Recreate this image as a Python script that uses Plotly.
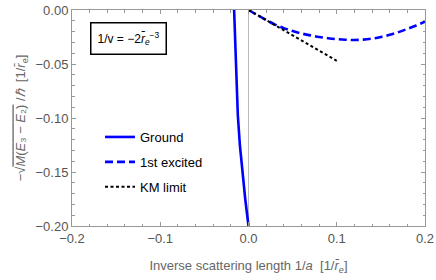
import plotly.graph_objects as go

# Ground state curve
ground_x = [-0.0163, -0.0152, -0.0142, -0.0131, -0.0121, -0.0098, -0.0070, -0.0037, 0.0]
ground_y = [0.0, -0.025, -0.05, -0.075, -0.0972, -0.125, -0.15, -0.175, -0.20]

# 1st excited state curve
excited_x = [0.0, 0.01, 0.02, 0.03, 0.04, 0.05, 0.06, 0.07, 0.08, 0.09, 0.10,
             0.11, 0.12, 0.13, 0.14, 0.15, 0.16, 0.17, 0.18, 0.19, 0.20]
excited_y = [0.0, -0.0047, -0.0092, -0.0135, -0.0168, -0.0195, -0.0217, -0.0235,
             -0.0250, -0.0261, -0.0270, -0.0275, -0.0278, -0.0274, -0.0265, -0.0250,
             -0.0230, -0.0205, -0.0175, -0.0143, -0.0108]

# KM limit line
km_x = [0.0, 0.10]
km_y = [0.0, -0.047]

x_ticks = [-0.2, -0.1, 0.0, 0.1, 0.2]
x_labels = ["\u22120.2", "\u22120.1", "0.0", "0.1", "0.2"]
y_ticks = [0.0, -0.05, -0.10, -0.15, -0.20]
y_labels = ["0.00", "\u22120.05", "\u22120.10", "\u22120.15", "\u22120.20"]

FONT = "Liberation Sans, Arial, sans-serif"
GRAY = "#999999"
TXT = "#555555"

fig = go.Figure()
fig.add_trace(go.Scatter(x=ground_x, y=ground_y, mode="lines", name="Ground",
                         line=dict(color="#0000ff", width=2.6), legendgroup="a"))
fig.add_trace(go.Scatter(x=excited_x, y=excited_y, mode="lines", name="1st excited",
                         line=dict(color="#0000ff", width=2.6, dash="8px,4px"),
                         line_shape="spline", legendgroup="b"))
fig.add_trace(go.Scatter(x=km_x, y=km_y, mode="lines", name="KM limit",
                         line=dict(color="black", width=2, dash="3px,2.5px"), legendgroup="c"))

axis_common = dict(
    showgrid=False, showline=True, linecolor=GRAY, linewidth=1, mirror="ticks",
    ticks="inside", ticklen=4, tickcolor=GRAY, tickwidth=1, automargin=False,
    tickfont=dict(family=FONT, size=13, color=TXT),
)

fig.update_xaxes(
    range=[-0.2, 0.2], tickvals=x_ticks, ticktext=x_labels,
    zeroline=True, zerolinecolor="#bbbbbb", zerolinewidth=1,
    minor=dict(dtick=0.02, tick0=0, ticks="inside", ticklen=2.5, tickcolor=GRAY, showgrid=False),
    title=dict(text="Inverse scattering length 1/<i>a</i>  [1/<i>r\u0304</i><sub><i>e</i></sub>]",
               font=dict(family=FONT, size=13, color="#666666"), standoff=16),
    **axis_common,
)
fig.update_yaxes(
    range=[-0.2, 0.0], tickvals=y_ticks, ticktext=y_labels,
    zeroline=False,
    minor=dict(dtick=0.01, tick0=0, ticks="inside", ticklen=2.5, tickcolor=GRAY, showgrid=False),
    title=dict(text="\u2212\u221a<span style=\"text-decoration:overline\"><i>M</i>(<i>E</i>\u2083 \u2212 <i>E</i>\u2082)</span> /<i>\u210f</i>  [1/<i>r\u0304</i><sub>e</sub>]",
               font=dict(family=FONT, size=13, color="#666666"), standoff=6),
    **axis_common,
)

fig.add_annotation(
    xref="paper", yref="paper", x=(90 - 72) / 353, y=(226 - 21.7) / 216,
    xanchor="left", yanchor="top", showarrow=False,
    text="1/v = \u22122<i>r\u0304</i><sub><i>e</i></sub><sup>\u22123</sup>",
    font=dict(family=FONT, size=12, color="black"),
    bordercolor="black", borderwidth=1.5, borderpad=6, bgcolor="white",
)

fig.update_layout(
    width=436, height=280,
    margin=dict(l=72, r=11, t=10, b=54),
    paper_bgcolor="white", plot_bgcolor="white",
    showlegend=True,
    legend=dict(x=(100 - 72) / 353, y=(226 - 122) / 216, xanchor="left", yanchor="top",
                bgcolor="rgba(0,0,0,0)", font=dict(family=FONT, size=13, color="black"),
                tracegroupgap=5, itemwidth=30),
)

fig.write_html("out.html", config={"displayModeBar": False},
               post_script="document.body.style.margin='0px';document.body.style.overflow='hidden';")
